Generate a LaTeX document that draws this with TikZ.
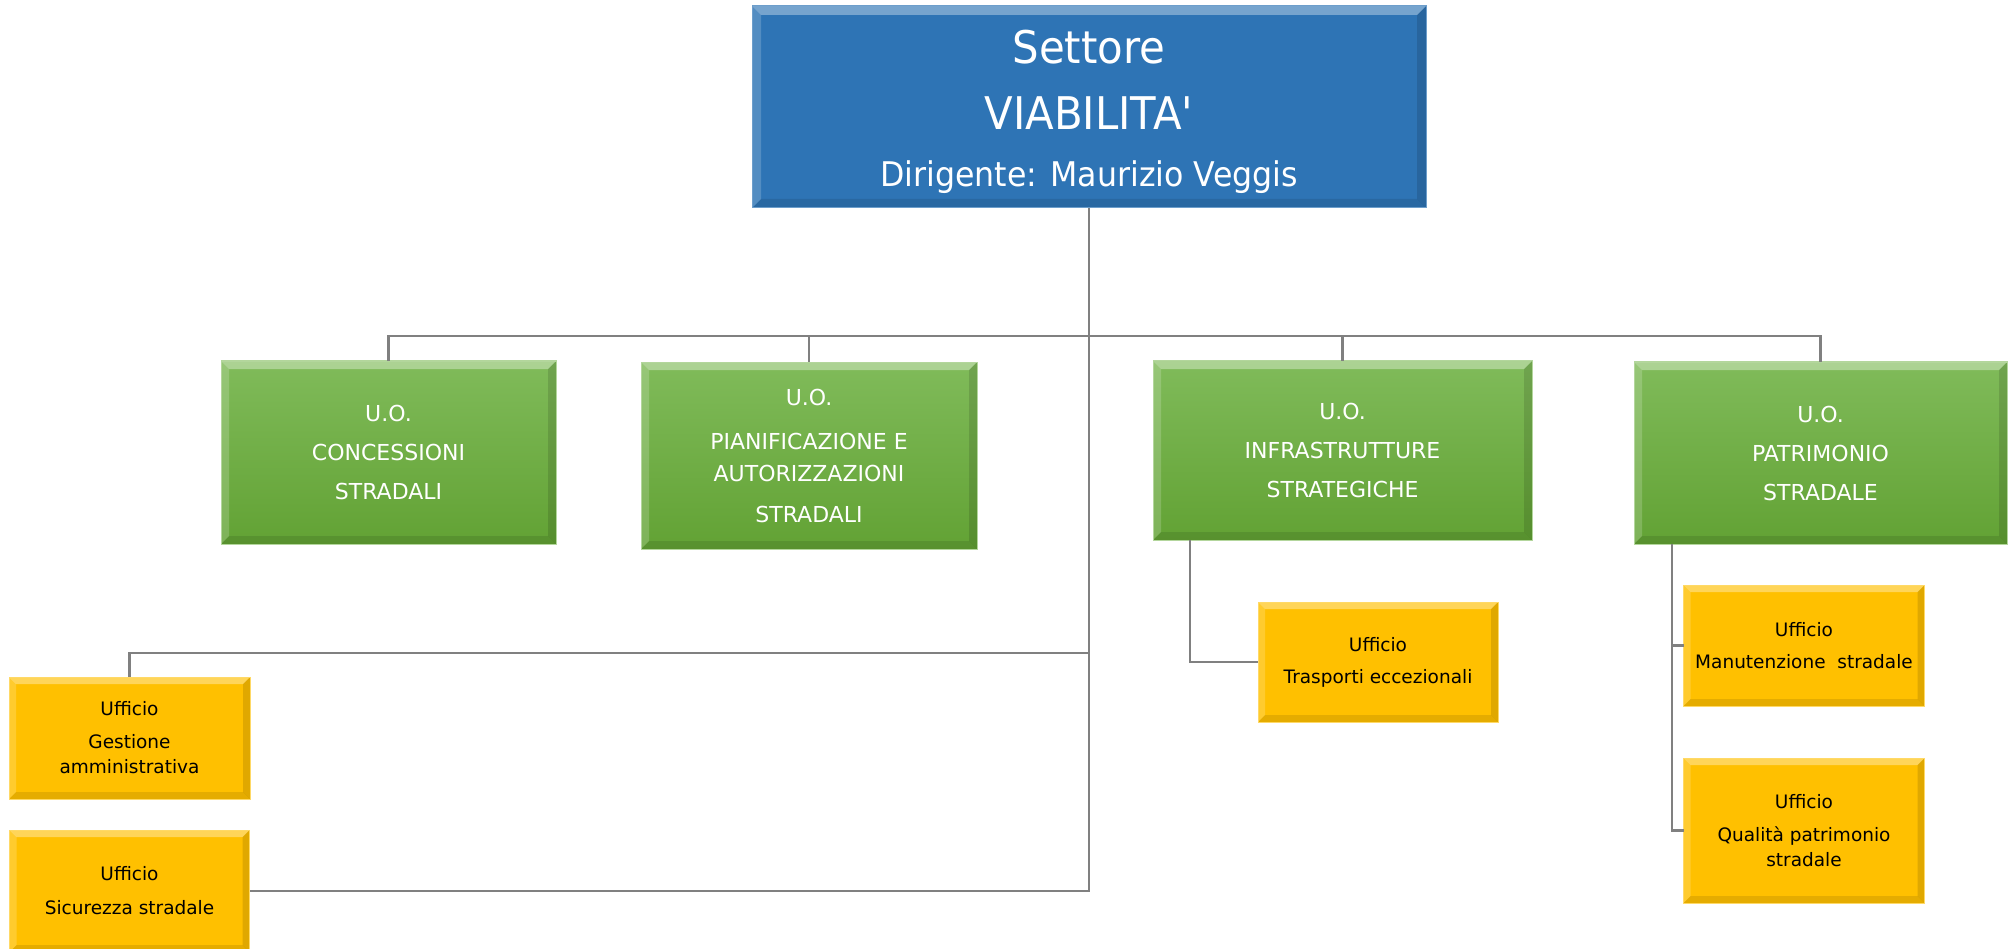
\documentclass[tikz,border=0pt]{standalone}
\usepackage{fontspec}
\setmainfont{DejaVu Sans}
\newfontfamily\topfont{DejaVu Sans}[FakeStretch=0.93]
\definecolor{linegray}{RGB}{128,128,128}
\definecolor{bluefill}{RGB}{46,116,181}
\definecolor{greentop}{RGB}{128,187,90}
\definecolor{greenbot}{RGB}{98,162,52}
\definecolor{yellowfill}{RGB}{255,192,0}
\tikzset{
  conn/.style={draw=linegray, line width=2.2pt},
  box/.style={rectangle, inner sep=0pt, outer sep=0pt, align=center},
  bevel/.style={path picture={
    \fill[white, opacity=0.35] (path picture bounding box.north west) -- (path picture bounding box.north east)
       -- ([xshift=-#1,yshift=-#1]path picture bounding box.north east) -- ([xshift=#1,yshift=-#1]path picture bounding box.north west) -- cycle;
    \fill[white, opacity=0.18] (path picture bounding box.north west) -- ([xshift=#1,yshift=-#1]path picture bounding box.north west)
       -- ([xshift=#1,yshift=#1]path picture bounding box.south west) -- (path picture bounding box.south west) -- cycle;
    \fill[black, opacity=0.12] (path picture bounding box.north east) -- ([xshift=-#1,yshift=-#1]path picture bounding box.north east)
       -- ([xshift=-#1,yshift=#1]path picture bounding box.south east) -- (path picture bounding box.south east) -- cycle;
    \fill[black, opacity=0.10] (path picture bounding box.south west) -- ([xshift=#1,yshift=#1]path picture bounding box.south west)
       -- ([xshift=-#1,yshift=#1]path picture bounding box.south east) -- (path picture bounding box.south east) -- cycle;
  }},
  bluebox/.style={box, fill=bluefill, draw=bluefill!70!white, line width=1pt, bevel=9pt, text=white},
  greenbox/.style={box, top color=greentop, bottom color=greenbot, draw=greentop!60!white, line width=1pt, bevel=8pt, text=white,
     font=\fontsize{22}{39}\selectfont},
  yellowbox/.style={box, fill=yellowfill, draw=yellowfill!60!white, line width=1pt, bevel=7pt, text=black,
     font=\fontsize{18.5}{25}\selectfont},
}
\begin{document}
\begin{tikzpicture}[x=1pt, y=-1pt]
\useasboundingbox (0,0) rectangle (2015,949);
\fill[white] (0,0) rectangle (2015,949);

\node[bluebox, minimum width=674pt, minimum height=202pt, font=\topfont\fontsize{45}{66}\selectfont] (top) at (1089,107)
  {\rule{0pt}{44pt}Settore\\VIABILITA'\\[-9pt]{\fontsize{34}{40}\selectfont Dirigente: Maurizio Veggis}};

\node[greenbox, minimum width=335pt, minimum height=183pt] (c1) at (388.5,452.5) {U.O.\\CONCESSIONI\\STRADALI};
\node[greenbox, minimum width=336pt, minimum height=187pt, font=\fontsize{22}{32}\selectfont] (c2) at (809,455.5)
  {U.O.\\[12pt]PIANIFICAZIONE E\\AUTORIZZAZIONI\\[9pt]STRADALI};
\node[greenbox, minimum width=379pt, minimum height=179pt] (c3) at (1342.5,450.5) {U.O.\\INFRASTRUTTURE\\STRATEGICHE};
\node[greenbox, minimum width=373pt, minimum height=182pt] (c4) at (1820.5,453) {U.O.\\PATRIMONIO\\STRADALE};

\node[yellowbox, minimum width=241pt, minimum height=122pt] (ges) at (129.5,738) {Ufficio\\[8pt]Gestione\\amministrativa};
\node[yellowbox, minimum width=240pt, minimum height=122pt] (sic) at (129.5,891) {Ufficio\\[9pt]Sicurezza stradale};
\node[yellowbox, minimum width=240pt, minimum height=120pt] (tra) at (1378,662) {Ufficio\\[7pt]Trasporti eccezionali};
\node[yellowbox, minimum width=241pt, minimum height=121pt] (man) at (1804,645.5) {Ufficio\\[7pt]Manutenzione\ \ stradale};
\node[yellowbox, minimum width=241pt, minimum height=145pt] (qua) at (1804,830.5) {Ufficio\\[8pt]Qualità patrimonio\\stradale};

\coordinate (bus) at (0,336);
\coordinate (gbus) at (0,653);
\coordinate (tx) at (1190,0);
\coordinate (px) at (1672,0);

\draw[conn] (top.south) -- (top.south |- bus);
\draw[conn] (c1.north) -- (c1.north |- bus) -- (c4.north |- bus) -- (c4.north);
\draw[conn] (c2.north) -- (c2.north |- bus);
\draw[conn] (c3.north) -- (c3.north |- bus);
\draw[conn] (top.south |- bus) -- (top.south |- sic.east) -- (sic.east);
\draw[conn] (top.south |- gbus) -- (ges.north |- gbus) -- (ges.north);
\draw[conn] (tx |- c3.south) -- (tx |- tra.west) -- (tra.west);
\draw[conn] (px |- c4.south) -- (px |- qua.west) -- (qua.west);
\draw[conn] (px |- man.west) -- (man.west);
\end{tikzpicture}
\end{document}
